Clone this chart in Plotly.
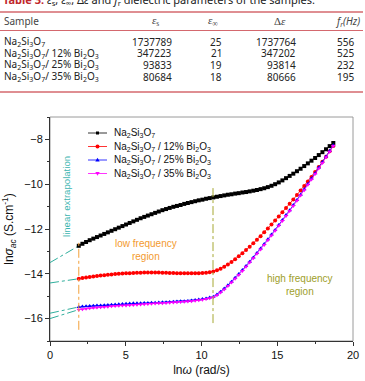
import plotly.graph_objects as go

# ---------------- data ----------------
ln_omega = [1.90, 2.14, 2.38, 2.62, 2.86, 3.10, 3.34, 3.58, 3.82, 4.06, 4.30, 4.54, 4.78, 5.02,
            5.26, 5.50, 5.74, 5.98, 6.22, 6.46, 6.70, 6.94, 7.18, 7.42, 7.66, 7.90, 8.14, 8.38,
            8.62, 8.86, 9.10, 9.34, 9.58, 9.82, 10.06, 10.30, 10.54, 10.78, 11.02, 11.26, 11.50,
            11.74, 11.98, 12.22, 12.46, 12.70, 12.94, 13.18, 13.42, 13.66, 13.90, 14.14, 14.38,
            14.62, 14.86, 15.10, 15.34, 15.58, 15.82, 16.06, 16.30, 16.54, 16.78, 17.02, 17.26,
            17.50, 17.74, 17.98, 18.22, 18.46, 18.70]

sigma_nso = [-12.75, -12.66, -12.58, -12.50, -12.43, -12.36, -12.29, -12.22, -12.15, -12.08,
             -12.01, -11.94, -11.87, -11.80, -11.73, -11.66, -11.59, -11.52, -11.46, -11.40,
             -11.34, -11.28, -11.22, -11.16, -11.11, -11.06, -11.01, -10.97, -10.93, -10.88,
             -10.84, -10.80, -10.76, -10.72, -10.69, -10.65, -10.62, -10.59, -10.56, -10.53,
             -10.50, -10.47, -10.45, -10.42, -10.40, -10.37, -10.35, -10.32, -10.29, -10.26,
             -10.22, -10.18, -10.13, -10.07, -10.00, -9.92, -9.83, -9.73, -9.63, -9.53,
             -9.42, -9.31, -9.19, -9.07, -8.95, -8.83, -8.70, -8.57, -8.44, -8.30, -8.16]

sigma_12 = [-14.22, -14.19, -14.16, -14.14, -14.12, -14.10, -14.08, -14.06, -14.04, -14.03,
            -14.01, -14.00, -13.99, -13.98, -13.97, -13.96, -13.95, -13.95, -13.94, -13.94,
            -13.94, -13.94, -13.94, -13.95, -13.95, -13.96, -13.96, -13.97, -13.97, -13.98,
            -13.98, -13.98, -13.98, -13.97, -13.96, -13.95, -13.93, -13.90, -13.84, -13.77,
            -13.68, -13.58, -13.47, -13.35, -13.22, -13.08, -12.94, -12.79, -12.64, -12.48,
            -12.32, -12.15, -11.98, -11.80, -11.62, -11.44, -11.25, -11.06, -10.87, -10.68,
            -10.48, -10.28, -10.08, -9.88, -9.68, -9.45, -9.23, -9.00, -8.77, -8.53, -8.29]

sigma_25 = [-15.48, -15.46, -15.45, -15.44, -15.43, -15.42, -15.41, -15.40, -15.39, -15.38,
            -15.37, -15.36, -15.35, -15.34, -15.33, -15.32, -15.32, -15.31, -15.30, -15.30,
            -15.29, -15.29, -15.28, -15.27, -15.27, -15.26, -15.25, -15.24, -15.23, -15.22,
            -15.21, -15.19, -15.17, -15.15, -15.13, -15.10, -15.06, -15.02, -14.92, -14.80,
            -14.66, -14.51, -14.35, -14.18, -14.01, -13.83, -13.65, -13.46, -13.27, -13.07,
            -12.87, -12.67, -12.46, -12.25, -12.04, -11.82, -11.60, -11.38, -11.16, -10.93,
            -10.70, -10.47, -10.23, -9.99, -9.75, -9.51, -9.26, -9.01, -8.76, -8.51, -8.26]

sigma_35 = [-15.60, -15.58, -15.56, -15.54, -15.52, -15.51, -15.49, -15.48, -15.47, -15.45,
            -15.44, -15.43, -15.42, -15.41, -15.40, -15.39, -15.38, -15.37, -15.36, -15.35,
            -15.34, -15.33, -15.32, -15.31, -15.30, -15.29, -15.28, -15.27, -15.26, -15.25,
            -15.24, -15.22, -15.20, -15.18, -15.16, -15.13, -15.09, -15.05, -14.96, -14.84,
            -14.70, -14.55, -14.39, -14.22, -14.05, -13.87, -13.69, -13.50, -13.31, -13.11,
            -12.91, -12.71, -12.50, -12.29, -12.08, -11.86, -11.64, -11.42, -11.20, -10.97,
            -10.74, -10.51, -10.27, -10.03, -9.79, -9.55, -9.30, -9.05, -8.80, -8.55, -8.29]

series_names = ["Na<sub>2</sub>Si<sub>3</sub>O<sub>7</sub>",
                "Na<sub>2</sub>Si<sub>3</sub>O<sub>7</sub> / 12% Bi<sub>2</sub>O<sub>3</sub>",
                "Na<sub>2</sub>Si<sub>3</sub>O<sub>7</sub> / 25% Bi<sub>2</sub>O<sub>3</sub>",
                "Na<sub>2</sub>Si<sub>3</sub>O<sub>7</sub> / 35% Bi<sub>2</sub>O<sub>3</sub>"]
series_values = [sigma_nso, sigma_12, sigma_25, sigma_35]
extrap_at_zero = [-13.50, -14.41, -15.76, -16.00]   # linear extrapolation to ln(omega)=0
low_freq_limit = 1.90
high_freq_limit = 10.76

# table data
table_samples = ["Na<sub>2</sub>Si<sub>3</sub>O<sub>7</sub>",
                 "Na<sub>2</sub>Si<sub>3</sub>O<sub>7</sub>/ 12% Bi<sub>2</sub>O<sub>3</sub>",
                 "Na<sub>2</sub>Si<sub>3</sub>O<sub>7</sub>/ 25% Bi<sub>2</sub>O<sub>3</sub>",
                 "Na<sub>2</sub>Si<sub>3</sub>O<sub>7</sub>/ 35% Bi<sub>2</sub>O<sub>3</sub>"]
eps_s = [1737789, 347223, 93833, 80684]
eps_inf = [25, 21, 19, 18]
delta_eps = [1737764, 347202, 93814, 80666]
f_r = [556, 525, 232, 195]

# ---------------- styling ----------------
colors = ["#000000", "#ff0000", "#0000ff", "#ff00ff"]
symbols = ["square", "circle", "triangle-up", "triangle-down"]
W, H = 365, 381
PL, PR, PT, PB = 50, 353, 117, 341


def px(x):
    return (x - PL) / (PR - PL)


def py(y):
    return (PB - y) / (PB - PT)


fig = go.Figure()

# extrapolation lines
for y0, vals in zip(extrap_at_zero, series_values):
    fig.add_trace(go.Scatter(x=[0, ln_omega[0]], y=[y0, vals[0]], mode="lines",
                             line=dict(color="#2fae9c", width=1, dash="dashdot"),
                             showlegend=False, hoverinfo="skip"))

for name, vals, c, s in zip(series_names, series_values, colors, symbols):
    fig.add_trace(go.Scatter(x=ln_omega, y=vals, mode="lines+markers", name=name,
                             line=dict(color=c, width=0.8),
                             marker=dict(color=c, symbol=s, size=4, line=dict(width=0)),
                             showlegend=False))

shapes = []
annotations = []

# vertical region separators
shapes.append(dict(type="line", xref="x", yref="y", x0=low_freq_limit, x1=low_freq_limit,
                   y0=-16.5, y1=-12.55, line=dict(color="#f3a03a", width=1, dash="dashdot")))
shapes.append(dict(type="line", xref="x", yref="y", x0=high_freq_limit, x1=high_freq_limit,
                   y0=-16.2, y1=-10.1, line=dict(color="#a6a832", width=1, dash="dashdot")))

# frame
shapes.append(dict(type="rect", xref="paper", yref="paper", x0=0, x1=1, y0=0, y1=1,
                   line=dict(color="#9a9a9a", width=1), layer="below"))

# manual legend
legend_rows = [133, 146.5, 160, 173.5]
for ry, name, c, s in zip(legend_rows, series_names, colors, symbols):
    shapes.append(dict(type="line", xref="paper", yref="paper", x0=px(88), x1=px(107),
                       y0=py(ry), y1=py(ry), line=dict(color=c, width=0.8)))
    common = dict(xref="paper", yref="paper", xsizemode="pixel", ysizemode="pixel",
                  xanchor=px(97.5), yanchor=py(ry), fillcolor=c, line=dict(width=0))
    if s == "square":
        shapes.append(dict(type="rect", x0=-1.5, x1=1.5, y0=-1.5, y1=1.5, **common))
    elif s == "circle":
        shapes.append(dict(type="circle", x0=-2, x1=2, y0=-2, y1=2, **common))
    elif s == "triangle-up":
        shapes.append(dict(type="path", path="M -2.2,-1.6 L 2.2,-1.6 L 0,2.2 Z", **common))
    else:
        shapes.append(dict(type="path", path="M -2.2,1.6 L 2.2,1.6 L 0,-2.2 Z", **common))
    annotations.append(dict(xref="paper", yref="paper", x=px(112), y=py(ry), text=name,
                            xanchor="left", yanchor="middle", showarrow=False,
                            font=dict(family="Arial, Liberation Sans", size=10, color="#111")))

# region labels
annotations.append(dict(xref="paper", yref="paper", x=px(66), y=py(197),
                        xanchor="center", yanchor="middle",
                        text="linear extrapolation", textangle=-90, showarrow=False,
                        font=dict(family="Arial, Liberation Sans", size=9.6, color="#3bb5b0")))
annotations.append(dict(xref="paper", yref="paper", x=px(146), y=py(250),
                        xanchor="center", yanchor="middle",
                        text="low frequency<br>region", showarrow=False,
                        font=dict(family="Arial, Liberation Sans", size=10, color="#f39a2e")))
annotations.append(dict(xref="paper", yref="paper", x=px(300), y=py(285),
                        xanchor="center", yanchor="middle",
                        text="high frequency<br>region", showarrow=False,
                        font=dict(family="Arial, Liberation Sans", size=10, color="#9e9e2a")))

# ---------------- table ----------------
tfont = dict(family="Noto Sans, Open Sans", size=10, color="#222")
hfont = dict(family="Noto Sans, Open Sans", size=10, color="#444")
sfont = dict(family="Liberation Serif, DejaVu Serif", size=11, color="#444")
red_line = "#d4686e"
annotations.append(dict(xref="paper", yref="paper", x=px(1), y=py(0.5),
                        text="<span style='color:#c0282d'><b>Table 3.</b></span> "
                             "<i>ε</i><sub>s</sub>, <i>ε</i><sub>∞</sub>, Δ<i>ε</i> and "
                             "<i>f</i><sub>r</sub> dielectric parameters of the samples.",
                        xanchor="left", yanchor="middle", showarrow=False,
                        font=dict(family="Noto Sans, Open Sans", size=11, color="#222")))
for yl, wl in [(12, 1.3), (30.5, 1), (92, 1.3)]:
    shapes.append(dict(type="line", xref="paper", yref="paper", x0=px(0), x1=px(363),
                       y0=py(yl), y1=py(yl), line=dict(color=red_line, width=wl)))

header_y = 21.5
annotations.append(dict(xref="paper", yref="paper", x=px(2), y=py(header_y), text="Sample",
                        xanchor="left", yanchor="middle", showarrow=False, font=hfont))
for hx, ht in [(155, "<i>ε</i><sub>s</sub>"), (213, "<i>ε</i><sub>∞</sub>"),
               (280, "Δ<i>ε</i>")]:
    annotations.append(dict(xref="paper", yref="paper", x=px(hx), y=py(header_y), text=ht,
                            xanchor="center", yanchor="middle", showarrow=False, font=sfont))
annotations.append(dict(xref="paper", yref="paper", x=px(362), y=py(header_y),
                        text="<i>f</i><sub><i>r</i></sub><i>(Hz)</i>",
                        xanchor="right", yanchor="middle", showarrow=False, font=hfont))

row_y = [41.7, 53.3, 65.0, 76.7]
for ry, smp, a, b, c, d in zip(row_y, table_samples, eps_s, eps_inf, delta_eps, f_r):
    annotations.append(dict(xref="paper", yref="paper", x=px(2), y=py(ry), text=smp,
                            xanchor="left", yanchor="middle", showarrow=False, font=tfont))
    for rx, v in [(174, a), (224, b), (298, c), (356, d)]:
        annotations.append(dict(xref="paper", yref="paper", x=px(rx), y=py(ry), text=str(v),
                                xanchor="right", yanchor="middle", showarrow=False, font=tfont))

axis_font = dict(family="Arial, Liberation Sans", size=11, color="#111")
fig.update_layout(
    width=W, height=H,
    margin=dict(l=PL, r=W - PR, t=PT, b=H - PB, pad=0, autoexpand=False),
    paper_bgcolor="white", plot_bgcolor="white",
    showlegend=False,
    shapes=shapes, annotations=annotations,
    xaxis=dict(range=[0, 20], dtick=5, tick0=0, showgrid=False, zeroline=False,
               automargin=False,
               showline=True, linecolor="#333", linewidth=1,
               ticks="outside", ticklen=4, tickcolor="#333", tickfont=axis_font,
               minor=dict(dtick=2.5, ticks="outside", ticklen=2, tickcolor="#333"),
               title=dict(text="ln<i>ω</i> (rad/s)", font=dict(family="Arial, Liberation Sans",
                                                             size=12, color="#111"), standoff=5)),
    yaxis=dict(range=[-17, -7], dtick=2, tick0=0, showgrid=False, zeroline=False,
               automargin=False,
               showline=True, linecolor="#333", linewidth=1,
               ticks="outside", ticklen=4, tickcolor="#333", tickfont=axis_font,
               minor=dict(dtick=1, ticks="outside", ticklen=2, tickcolor="#333"),
               title=dict(text="ln<i>σ</i><sub><i>ac</i></sub> (S.cm<sup>-1</sup>)",
                          font=dict(family="Arial, Liberation Sans", size=12, color="#111"),
                          standoff=9)),
)

fig.write_html("out.html")
